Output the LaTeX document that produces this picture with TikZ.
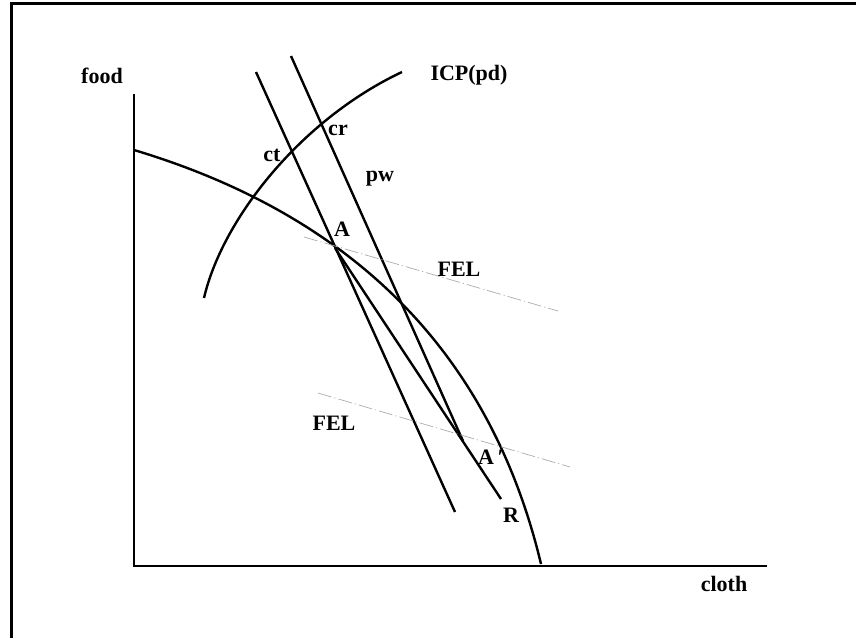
\documentclass[tikz,border=0pt]{standalone}
\usepackage{fontspec}
\setmainfont{Liberation Serif}
\begin{document}
\begin{tikzpicture}[x=1pt,y=-1pt,
  curve/.style={line width=2.4pt,line join=round},
  fel/.style={line width=0.7pt,gray!65,dash pattern=on 14pt off 3pt on 1.2pt off 3pt},
  lbl/.style={font=\fontsize{22}{24}\selectfont\bfseries,inner sep=0pt}]
\useasboundingbox (0,0) rectangle (856,638);
% frame
\draw[line width=3pt] (11.5,638) -- (11.5,3.5) -- (856,3.5);
% axes
\coordinate (yt) at (134,94);
\coordinate (o) at (134,566);
\coordinate (xr) at (767,566);
\draw[line width=2.8pt] (yt) -- (o) -- (xr);
\node[lbl] (food) at (102,76) {food};
\node[lbl] (cloth) at (724,584) {cloth};
% PPF
\coordinate (ppfS) at (134,150);
\coordinate (ppfE) at (541,564);
\draw[curve] (ppfS) .. controls (384,225) and (498,384) .. (ppfE);
% ICP
\coordinate (icpS) at (204,298);
\coordinate (icpE) at (402,72);
\draw[curve] (icpS) .. controls (222,220) and (300,120) .. (icpE);
\node[lbl] (icp) at (469,75) {ICP(pd)};
% points
\coordinate (A) at (335,248);
\coordinate (Ap) at (463,441);
\coordinate (ctT) at (256,72);
\coordinate (ctB) at (455,512);
\coordinate (pwT) at (291,56);
\coordinate (Rend) at (501,499);
\draw[curve] (ctT) -- (ctB);
\draw[curve] (pwT) -- (Ap);
\draw[curve] (A) -- (Rend);
% FEL lines
\coordinate (f1a) at (304,237);
\coordinate (f1b) at (558,311);
\coordinate (f2a) at (318,393);
\coordinate (f2b) at (570,467);
\draw[fel] (f1a) -- (f1b);
\draw[fel] (f2a) -- (f2b);
% labels
\node[lbl] (lA) at (342,229) {A};
\node[lbl] (lcr) at (338,130) {cr};
\node[lbl] (lct) at (272,155) {ct};
\node[lbl] (lpw) at (380,179) {pw};
\node[lbl] (lfel1) at (459,269) {FEL};
\node[lbl] (lfel2) at (334,423) {FEL};
\node[lbl] (lAp) at (491,457) {A\,′};
\node[lbl] (lR) at (511,515) {R};
\end{tikzpicture}
\end{document}
